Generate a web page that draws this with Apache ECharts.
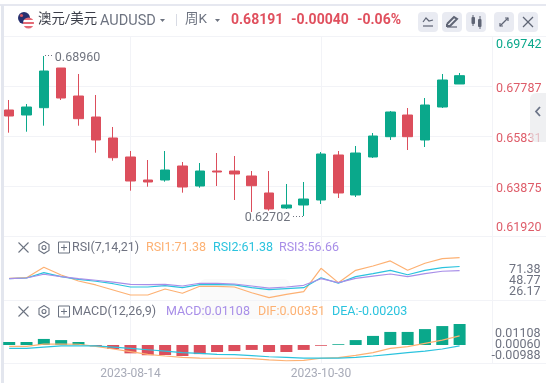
<!DOCTYPE html>
<html>
<head>
<meta charset="utf-8">
<style>html,body{margin:0;padding:0;background:#fff}#c{width:546px;height:383px}</style>
<script src="https://cdn.jsdelivr.net/npm/echarts@6/dist/echarts.min.js"></script>
</head>
<body>
<div id="c"></div>
<script>
var weeks = ['2023-06-26','2023-07-03','2023-07-10','2023-07-17','2023-07-24','2023-07-31','2023-08-07','2023-08-14','2023-08-21','2023-08-28','2023-09-04','2023-09-11','2023-09-18','2023-09-25','2023-10-02','2023-10-09','2023-10-16','2023-10-23','2023-10-30','2023-11-06','2023-11-13','2023-11-20','2023-11-27','2023-12-04','2023-12-11','2023-12-18','2023-12-25'];
var dateTicks = ['2023-08-14','2023-10-30'];
var openPrices  = [.66848,.66652,.66938,.68490,.67395,.66574,.65753,.65010,.64110,.64110,.64658,.63875,.64462,.64462,.64267,.63602,.63015,.63132,.63328,.65088,.63524,.65010,.65804,.66652,.65675,.66965,.67865];
var closePrices = [.66613,.66965,.68373,.67317,.66508,.65675,.64982,.64071,.64032,.64501,.63836,.64462,.64423,.64345,.63887,.62976,.63132,.63367,.65127,.63602,.65166,.65831,.66770,.65804,.67043,.68021,.68191];
var lowPrices   = [.65960,.65999,.66234,.67239,.66234,.65178,.64865,.63692,.63848,.64044,.63614,.63809,.63875,.63328,.62859,.62910,.62976,.62702,.63172,.63406,.63445,.64971,.65675,.65283,.65401,.66926,.67865];
var highPrices  = [.67239,.67083,.68960,.68490,.68256,.67435,.66183,.65244,.64892,.65244,.64814,.64775,.65166,.65049,.64462,.64462,.63954,.64032,.65205,.65244,.65440,.65948,.66809,.66926,.67317,.68256,.68295];
var rsi1 = [48.0,48.7,60.5,51.8,45.0,40.5,34.8,29.1,29.1,35.9,31.1,39.0,39.0,38.2,31.7,26.17,29.9,32.9,59.4,43.1,57.1,62.0,67.7,57.1,65.1,70.3,71.38];
var rsi2 = [47.6,48.4,54.4,49.9,46.9,44.7,41.9,38.2,38.2,39.7,37.4,40.8,40.8,40.5,37.4,35.1,36.3,37.4,48.7,42.4,49.9,53.3,57.1,52.1,57.1,60.1,61.38];
var rsi3 = [47.6,48.4,52.6,49.9,47.6,45.8,43.8,41.2,40.8,41.2,39.3,42.4,42.4,41.6,39.3,37.0,38.2,40.1,47.6,43.1,48.0,50.6,52.9,49.9,53.3,56.0,56.66];
var macdBars = [.0016,.0016,.0032,.0026,.0016,-.0007,-.0021,-.0044,-.0054,-.0053,-.0058,-.0048,-.0037,-.0032,-.0026,-.0037,-.0037,-.0026,-.0004,.0004,.0026,.0048,.0069,.0069,.0084,.0100,.01108];
var difLine = [-.0007,-.0007,.0005,.0005,.0004,-.0007,-.0021,-.0035,-.0049,-.0058,-.0065,-.0069,-.0070,-.0070,-.0072,-.0079,-.0083,-.0081,-.0070,-.0067,-.0055,-.0040,-.0018,-.0009,.0009,.0026,.0048];
var deaLine = [-.0018,-.0018,-.0011,-.0005,-.0004,-.0005,-.0011,-.0018,-.0025,-.0032,-.0040,-.0044,-.0049,-.0051,-.0056,-.0062,-.0065,-.0069,-.0069,-.0069,-.0065,-.0058,-.0049,-.0040,-.0032,-.0021,-.0005];
var priceTicks = [0.61920,0.63875,0.65831,0.67787,0.69742];
var rsiTicks = ['71.38','48.77','26.17'];
var macdTicks = ['0.01108','0.00060','-0.00988'];

var FONT = 'Roboto, "Liberation Sans", "Noto Sans CJK SC", sans-serif';
var GREEN = '#0aa88b', RED = '#dc4e5c', ORANGE = '#fdb173', CYAN = '#2bc3de', PURPLE = '#a88ee8';
var LABEL_RED = '#de5c69';
var GRID = '#f2f3f7', GREY = '#6e7280';
var xs = weeks.map(function (w, i) { return i; });
var tickIdx = dateTicks.map(function (d) { return weeks.indexOf(d); });
var xMin = tickIdx[0] - 7.3, xMax = tickIdx[0] + 20.87;
var pairs = function (arr) { return arr.map(function (v, i) { return [xs[i], v]; }); };

function xAxis(i, labels) {
  return {
    type: 'value', gridIndex: i, min: xMin, max: xMax, scale: true,
    axisLine: {show: false},
    axisTick: {show: false, customValues: tickIdx},
    splitLine: {show: true, lineStyle: {color: GRID, width: 1}},
    axisLabel: {
      show: labels, customValues: tickIdx, margin: 5, hideOverlap: false,
      color: '#a8abb8', fontSize: 12, fontFamily: FONT,
      formatter: function (v) { return weeks[Math.round(v)]; }
    }
  };
}
function txt(x, y, t, color, size, extra) {
  var s = {x: x, y: y, text: t, fill: color, font: (extra && extra.weight || 'normal') + ' ' + size + 'px ' + FONT,
    textVerticalAlign: 'middle', textAlign: extra && extra.align || 'left'};
  return {type: 'text', style: s, z: 20, silent: true};
}
function line(x1, y1, x2, y2, color, w, dash) {
  return {type: 'line', shape: {x1: x1, y1: y1, x2: x2, y2: y2}, z: 0, silent: true,
    style: {stroke: color, lineWidth: w || 1, lineDash: dash || null}};
}
function rrect(x, y, w, h, r, fill, z) {
  return {type: 'rect', shape: {x: x, y: y, width: w, height: h, r: r}, style: {fill: fill}, z: z || 0, silent: true};
}
function poly(points, color, w) {
  return {type: 'polyline', shape: {points: points}, style: {stroke: color, lineWidth: w || 1.3, fill: null}, z: 21, silent: true};
}
function panelIcons(y) {
  var c = '#6b7280';
  return [
    poly([[18.5, y - 5], [28.5, y + 5]], c, 1.1), poly([[28.5, y - 5], [18.5, y + 5]], c, 1.1),
    poly([[44, y - 6], [49, y - 3], [49, y + 3], [44, y + 6], [39, y + 3], [39, y - 3], [44, y - 6]], c, 1.1),
    {type: 'circle', shape: {cx: 44, cy: y, r: 2}, style: {stroke: c, fill: null, lineWidth: 1.1}, z: 21, silent: true},
    {type: 'rect', shape: {x: 58.5, y: y - 5.5, width: 11, height: 11}, style: {stroke: c, fill: null, lineWidth: 1}, z: 21, silent: true},
    poly([[64, y - 3], [64, y + 3]], c, 1), poly([[61, y], [67, y]], c, 1)
  ];
}
var gfx = [
  rrect(0, 4, 546, 2, 0, '#e6e8f0', 1),
  rrect(1, 5, 3, 378, 0, '#e3e6ee', 1),
  rrect(200, 279, 90, 40, 6, '#fafafa', -1),
  line(4, 36.5, 546, 36.5, GRID), line(4, 236.5, 546, 236.5, GRID),
  line(4, 300.5, 546, 300.5, GRID), line(4, 363.5, 546, 363.5, GRID),
  line(492.5, 36, 492.5, 364, GRID),
  // flag
  {type: 'circle', shape: {cx: 24, cy: 18, r: 6}, style: {fill: '#27306f'}, z: 21, silent: true},
  {type: 'circle', shape: {cx: 21.5, cy: 15.5, r: 1.6}, style: {fill: '#d9545f'}, z: 22, silent: true},
  {type: 'circle', shape: {cx: 28.5, cy: 23, r: 5.5}, z: 22, silent: true, style: {fill: {
    type: 'linear', x: 0, y: 0, x2: 0, y2: 1, colorStops: [
      {offset: 0, color: '#e46a76'}, {offset: .25, color: '#e46a76'}, {offset: .25, color: '#fff'}, {offset: .42, color: '#fff'},
      {offset: .42, color: '#e46a76'}, {offset: .6, color: '#e46a76'}, {offset: .6, color: '#fff'}, {offset: .75, color: '#fff'},
      {offset: .75, color: '#e46a76'}, {offset: 1, color: '#e46a76'}]}}},
  txt(38, 20, '澳元/美元', '#3a3d48', 13.4),
  txt(100, 21, 'AUDUSD', '#6d7380', 14.5),
  {type: 'polygon', shape: {points: [[160, 19], [165, 19], [162.5, 22]]}, style: {fill: '#6d7380'}, z: 21, silent: true},
  line(176.5, 14, 176.5, 26, '#d8dbe4'),
  txt(185, 20, '周K', '#6d7380', 13.5),
  {type: 'polygon', shape: {points: [[215, 19], [220, 19], [217.5, 22]]}, style: {fill: '#6d7380'}, z: 21, silent: true},
  txt(231, 20, '0.68191', '#e0505e', 14, {weight: 'bold'}),
  txt(291, 20, '-0.00040', '#e0505e', 14, {weight: 'bold'}),
  txt(357, 20, '-0.06%', '#e0505e', 14, {weight: 'bold'}),
  rrect(418, 12, 20, 20, 4, '#e9ebf2', 1), rrect(442, 12, 20, 20, 4, '#e9ebf2', 1), rrect(466, 12, 20, 20, 4, '#e9ebf2', 1),
  rrect(494, 12, 20, 20, 4, '#e9ebf2', 1), rrect(518, 12, 20, 20, 4, '#e9ebf2', 1),
  poly([[423, 22], [426, 18], [429, 21], [433, 20]], '#5f6575', 1.2), poly([[423, 26], [433, 26]], '#5f6575', 1.2),
  poly([[447, 24], [454, 17], [457, 19], [450, 26], [447, 26], [447, 24]], '#5f6575', 2), poly([[447, 27], [457, 27]], '#5f6575', 1.2),
  rrect(471.5, 17, 3.5, 7, 1, '#5f6575', 21), rrect(478, 19, 3.5, 8, 1, '#5f6575', 21),
  poly([[473, 15], [473, 26]], '#5f6575', 1), poly([[480, 16], [480, 29]], '#5f6575', 1),
  poly([[500, 26], [508, 18]], '#5f6575', 1.2), poly([[505, 18], [508, 18], [508, 21]], '#5f6575', 1.2), poly([[500, 23], [500, 26], [503, 26]], '#5f6575', 1.2),
  poly([[523, 17], [533, 27]], '#5f6575', 1.2), poly([[533, 17], [523, 27]], '#5f6575', 1.2),
  // high and low leaders
  line(45, 55.5, 54, 55.5, '#6e7280', 1, [1, 2]), line(293, 216.5, 303, 216.5, '#6e7280', 1, [1, 2]),
  // panel legends
  txt(72, 247.5, 'RSI(7,14,21)', GREY, 12.5),
  txt(146, 247.5, 'RSI1:71.38', ORANGE, 12.5), txt(213, 247.5, 'RSI2:61.38', CYAN, 12.5), txt(279, 247.5, 'RSI3:56.66', PURPLE, 12.5),
  txt(72, 311.5, 'MACD(12,26,9)', GREY, 12.5),
  txt(166, 311.5, 'MACD:0.01108', PURPLE, 12.5), txt(258, 311.5, 'DIF:0.00351', ORANGE, 12.5), txt(332, 311.5, 'DEA:-0.00203', CYAN, 12.5),
  txt(540.5, 269.5, rsiTicks[0], GREY, 12.5, {align: 'right'}),
  txt(540.5, 280.5, rsiTicks[1], GREY, 12.5, {align: 'right'}),
  txt(540.5, 292, rsiTicks[2], GREY, 12.5, {align: 'right'}),
  txt(540.5, 333.5, macdTicks[0], GREY, 12.5, {align: 'right'}),
  txt(540.5, 344.5, macdTicks[1], GREY, 12.5, {align: 'right'}),
  txt(540.5, 355.5, macdTicks[2], GREY, 12.5, {align: 'right'}),
  // side handle
  {type: 'rect', shape: {x: 530, y: 93, width: 16, height: 49, r: [6, 0, 0, 6]}, style: {fill: 'rgba(232,233,236,0.7)'}, z: 30, silent: true},
  {type: 'polyline', shape: {points: [[540, 107], [536, 111.5], [540, 116]]}, style: {stroke: '#6b7488', lineWidth: 1.8, fill: null}, z: 31, silent: true}
].concat(panelIcons(247.5), panelIcons(311.5));

var lineSeries = function (name, data, color, gi) {
  return {name: name, type: 'line', xAxisIndex: gi, yAxisIndex: gi, data: pairs(data), showSymbol: false, symbol: 'none',
    smooth: false, z: 5, silent: true, lineStyle: {color: color, width: 1.2}};
};
var priceStyle = function (color, pad) {
  return {color: color, fontSize: 12.5, fontFamily: FONT, padding: pad};
};

var chart = echarts.init(document.getElementById('c'), null, {renderer: 'canvas'});
chart.setOption({
  animation: false,
  backgroundColor: '#fff',
  textStyle: {fontFamily: FONT},
  graphic: gfx,
  grid: [
    {left: 4, right: 54, top: 36, height: 200},
    {left: 4, right: 54, top: 236, height: 64},
    {left: 4, right: 54, top: 300, height: 63}
  ],
  xAxis: [xAxis(0, false), xAxis(1, false), xAxis(2, true)],
  yAxis: [
    {type: 'value', gridIndex: 0, position: 'right', min: priceTicks[0], max: priceTicks[4], scale: true,
      axisLine: {show: false}, axisTick: {show: false, customValues: priceTicks},
      splitLine: {show: true, lineStyle: {color: GRID}},
      axisLabel: {customValues: priceTicks, margin: 4, fontSize: 12.5, fontFamily: FONT,
        verticalAlignMinLabel: 'bottom', verticalAlignMaxLabel: 'top',
        formatter: function (v) {
          var t = (+v).toFixed(5);
          if (+v > 0.69) return '{top|' + t + '}';
          if (+v < 0.62) return '{bot|' + t + '}';
          return '{mid|' + t + '}';
        },
        rich: {
          top: priceStyle(GREEN, [3, 0, 0, 0]),
          mid: priceStyle(LABEL_RED, [5, 0, 0, 0]),
          bot: priceStyle(LABEL_RED, [0, 0, 2, 0])
        }}},
    {type: 'value', gridIndex: 1, position: 'right', min: 23.45, max: 95.97, axisLine: {show: false}, axisTick: {show: false}, axisLabel: {show: false}, splitLine: {show: false}},
    {type: 'value', gridIndex: 2, position: 'right', min: -.0095, max: .02376, axisLine: {show: false}, axisTick: {show: false}, axisLabel: {show: false}, splitLine: {show: false}}
  ],
  series: [
    {type: 'candlestick', xAxisIndex: 0, yAxisIndex: 0, barWidth: 10, silent: true,
      data: xs.map(function (x, i) { return [x, openPrices[i], closePrices[i], lowPrices[i], highPrices[i]]; }),
      encode: {x: 0, y: [1, 2, 3, 4]},
      itemStyle: {color: GREEN, color0: RED, borderColor: GREEN, borderColor0: RED, borderWidth: 1},
      markPoint: {symbol: 'circle', symbolSize: 0, silent: true, animation: false,
        label: {show: true, color: '#70747f', fontSize: 12.5, fontFamily: FONT},
        data: [
          {coord: [xs[2], highPrices[2]], value: highPrices[2].toFixed(5), label: {position: 'right', offset: [6, 2]}},
          {coord: [xs[17], lowPrices[17]], value: lowPrices[17].toFixed(5), label: {position: 'left', offset: [-8.5, 2]}}
        ]}},
    lineSeries('RSI1', rsi1, ORANGE, 1), lineSeries('RSI2', rsi2, CYAN, 1), lineSeries('RSI3', rsi3, PURPLE, 1),
    {name: 'MACD', type: 'bar', xAxisIndex: 2, yAxisIndex: 2, barWidth: 12, silent: true, z: 2,
      data: macdBars.map(function (v, i) { return {value: [xs[i], v], itemStyle: {color: v >= 0 ? GREEN : RED}}; })},
    lineSeries('DIF', difLine, ORANGE, 2), lineSeries('DEA', deaLine, CYAN, 2)
  ]
});
</script>
</body>
</html>
